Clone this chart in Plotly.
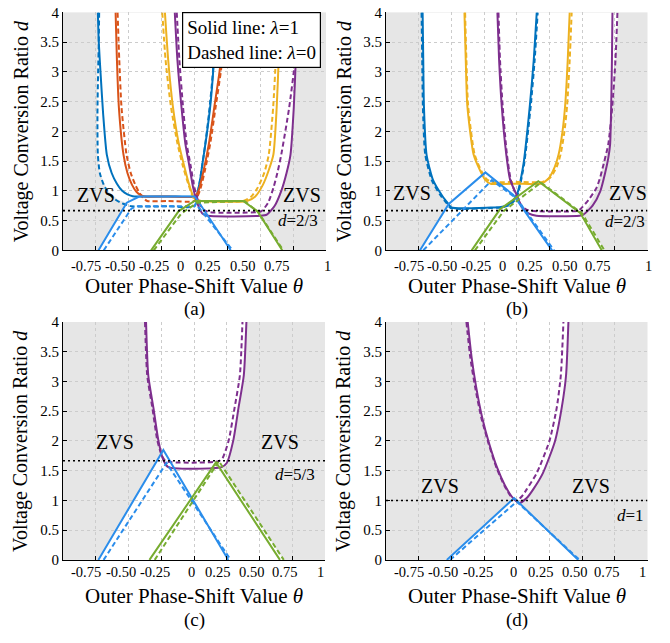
import plotly.graph_objects as go

# ---------------- tick labels ----------------
THETA_TICKS = [-0.75, -0.5, -0.25, 0, 0.25, 0.5, 0.75, 1]
THETA_TICK_TEXT = ['-0.75', '-0.50', '-0.25', '0', '0.25', '0.50', '0.75', '1']
D_TICKS = [0, 0.5, 1, 1.5, 2, 2.5, 3, 3.5, 4]
D_TICK_TEXT = ['0', '0.5', '1', '1.5', '2', '2.5', '3', '3.5', '4']

# ---------------- panel (a) ----------------
A_DB_S_T = [-0.735, -0.728, -0.715, -0.695, -0.667, -0.63, -0.59, -0.55, -0.51, -0.47, -0.43, -0.2, 0.0, 0.016, 0.04, 0.06, 0.09, 0.12, 0.145, 0.165]
A_DB_S_D = [4.0, 3.5, 3.0, 2.3, 1.61, 1.3, 1.12, 1.0, 0.94, 0.91, 0.905, 0.905, 0.905, 0.93, 1.15, 1.45, 1.9, 2.43, 3.1, 4.0]
A_DB_D_T = [-0.725, -0.728, -0.733, -0.738, -0.735, -0.72, -0.69, -0.65, -0.60, -0.55, -0.51, -0.48, -0.2, 0.0, 0.02, 0.05, 0.08, 0.11, 0.14, 0.158]
A_DB_D_D = [4.0, 3.5, 3.0, 2.3, 1.61, 1.3, 1.1, 0.95, 0.85, 0.79, 0.76, 0.74, 0.74, 0.74, 0.9, 1.3, 1.75, 2.3, 3.0, 4.0]
A_OR_S_T = [-0.60, -0.59, -0.575, -0.54, -0.51, -0.475, -0.44, -0.41, -0.38, -0.2, 0.0, 0.03, 0.07, 0.11, 0.15, 0.19, 0.215, 0.235]
A_OR_S_D = [4.0, 3.2, 2.4, 1.61, 1.3, 1.1, 0.98, 0.93, 0.905, 0.905, 0.905, 1.0, 1.35, 1.8, 2.4, 3.0, 3.5, 4.0]
A_OR_D_T = [-0.585, -0.572, -0.555, -0.517, -0.485, -0.45, -0.42, -0.39, -0.36, -0.2, 0.0, 0.04, 0.08, 0.12, 0.16, 0.20, 0.225, 0.245]
A_OR_D_D = [4.0, 3.2, 2.4, 1.61, 1.3, 1.1, 0.97, 0.88, 0.83, 0.83, 0.83, 1.0, 1.35, 1.8, 2.4, 3.0, 3.5, 4.0]
A_YE_S_T = [-0.225, -0.20, -0.165, -0.12, -0.08, -0.04, 0.0, 0.05, 0.40, 0.46, 0.52, 0.565, 0.60, 0.625, 0.64, 0.652]
A_YE_S_D = [4.0, 3.2, 2.43, 1.8, 1.43, 1.1, 0.87, 0.83, 0.83, 0.9, 1.1, 1.35, 1.61, 2.4, 3.2, 4.0]
A_YE_D_T = [-0.245, -0.22, -0.18, -0.13, -0.09, -0.045, 0.0, 0.05, 0.37, 0.43, 0.48, 0.53, 0.565, 0.598, 0.618, 0.632]
A_YE_D_D = [4.0, 3.2, 2.43, 1.8, 1.43, 1.1, 0.85, 0.83, 0.83, 0.9, 1.05, 1.3, 1.61, 2.4, 3.2, 4.0]
A_PU_S_T = [-0.15, -0.13, -0.10, -0.07, -0.04, -0.01, 0.02, 0.06, 0.10, 0.50, 0.55, 0.61, 0.66, 0.70, 0.73, 0.755, 0.77, 0.78]
A_PU_S_D = [4.0, 3.2, 2.43, 1.8, 1.43, 1.05, 0.8, 0.62, 0.58, 0.58, 0.60, 0.75, 1.0, 1.3, 1.61, 2.4, 3.2, 4.0]
A_PU_D_T = [-0.135, -0.115, -0.088, -0.06, -0.03, 0.0, 0.03, 0.07, 0.12, 0.47, 0.51, 0.56, 0.60, 0.63, 0.66, 0.72, 0.765, 0.79]
A_PU_D_D = [4.0, 3.2, 2.43, 1.8, 1.43, 1.05, 0.82, 0.68, 0.64, 0.64, 0.66, 0.8, 1.05, 1.3, 1.61, 2.4, 3.2, 4.0]
A_LB_S_T = [-0.73, -0.515, -0.42, 0.0, 0.02, 0.275]
A_LB_S_D = [0.0, 0.80, 0.905, 0.905, 0.85, 0.0]
A_LB_D_T = [-0.69, -0.48, -0.44, 0.0, 0.01, 0.29]
A_LB_D_D = [0.0, 0.70, 0.74, 0.74, 0.78, 0.0]
A_GR_S_T = [-0.33, -0.12, 0.0, 0.37, 0.477, 0.667]
A_GR_S_D = [0.0, 0.66, 0.83, 0.83, 0.66, 0.0]
A_GR_D_T = [-0.31, -0.10, 0.02, 0.38, 0.485, 0.675]
A_GR_D_D = [0.0, 0.62, 0.80, 0.83, 0.64, 0.0]
A_WHITE_T = [-0.735, -0.738, -0.738, -0.72, -0.66, -0.58, -0.515, -0.73, 0.675, 0.485, 0.55, 0.61, 0.66, 0.70, 0.73, 0.755, 0.775, 0.79]
A_WHITE_D = [4.0, 3.0, 1.61, 1.3, 1.0, 0.85, 0.80, 0.0, 0.0, 0.64, 0.64, 0.75, 1.0, 1.3, 1.61, 2.4, 3.2, 4.0]
A_LEVEL = 2 / 3

# ---------------- panel (b) ----------------
B_DB_S_T = [-0.72, -0.715, -0.71, -0.69, -0.64, -0.574, -0.53, -0.50, -0.2, -0.12, -0.07, -0.03, 0.0, 0.05, 0.10, 0.13, 0.153]
B_DB_S_D = [4.0, 3.2, 2.43, 1.61, 1.18, 0.93, 0.80, 0.72, 0.72, 0.73, 0.76, 0.83, 0.93, 1.43, 2.43, 3.2, 4.0]
B_DB_D_T = [-0.728, -0.723, -0.718, -0.70, -0.65, -0.585, -0.54, -0.505, -0.2, -0.12, -0.065, -0.025, 0.005, 0.055, 0.107, 0.137, 0.16]
B_DB_D_D = [4.0, 3.2, 2.43, 1.61, 1.18, 0.93, 0.80, 0.71, 0.71, 0.72, 0.75, 0.82, 0.92, 1.43, 2.43, 3.2, 4.0]
B_YE_S_T = [-0.40, -0.39, -0.378, -0.33, -0.28, -0.24, -0.20, 0.0, 0.18, 0.24, 0.29, 0.32, 0.35, 0.37, 0.39, 0.405]
B_YE_S_D = [4.0, 3.2, 2.43, 1.61, 1.34, 1.18, 1.12, 1.12, 1.12, 1.2, 1.4, 1.61, 2.0, 2.43, 3.2, 4.0]
B_YE_D_T = [-0.395, -0.385, -0.372, -0.322, -0.272, -0.232, -0.19, 0.0, 0.195, 0.255, 0.305, 0.335, 0.365, 0.385, 0.405, 0.42]
B_YE_D_D = [4.0, 3.2, 2.43, 1.61, 1.34, 1.2, 1.15, 1.15, 1.15, 1.22, 1.4, 1.61, 2.0, 2.43, 3.2, 4.0]
B_PU_S_T = [-0.148, -0.135, -0.115, -0.08, -0.05, 0.0, 0.04, 0.09, 0.15, 0.48, 0.51, 0.58, 0.64, 0.675, 0.70, 0.714, 0.722, 0.728, 0.732]
B_PU_S_D = [4.0, 3.2, 2.43, 1.61, 1.18, 0.93, 0.72, 0.62, 0.58, 0.58, 0.60, 0.75, 1.0, 1.29, 1.55, 1.78, 2.4, 3.2, 4.0]
B_PU_D_T = [-0.14, -0.128, -0.108, -0.075, -0.045, 0.0, 0.04, 0.08, 0.13, 0.46, 0.48, 0.55, 0.61, 0.64, 0.67, 0.70, 0.73, 0.755, 0.77]
B_PU_D_D = [4.0, 3.2, 2.43, 1.61, 1.18, 0.9, 0.74, 0.68, 0.66, 0.66, 0.68, 0.85, 1.05, 1.24, 1.5, 1.78, 2.4, 3.2, 4.0]
B_LB_S_T = [-0.74, -0.52, -0.24, -0.026, 0.27]
B_LB_S_D = [0.0, 0.78, 1.31, 0.93, 0.0]
B_LB_D_T = [-0.715, -0.42, -0.19, 0.0, 0.285]
B_LB_D_D = [0.0, 0.66, 1.18, 0.87, 0.0]
B_GR_S_T = [-0.345, -0.13, 0.165, 0.485, 0.65]
B_GR_S_D = [0.0, 0.685, 1.16, 0.63, 0.0]
B_GR_D_T = [-0.32, -0.10, 0.185, 0.50, 0.67]
B_GR_D_D = [0.0, 0.66, 1.14, 0.62, 0.0]
B_WHITE_T = [-0.728, -0.72, -0.70, -0.65, -0.585, -0.52, -0.74, 0.67, 0.50, 0.55, 0.61, 0.64, 0.67, 0.70, 0.73, 0.755, 0.775]
B_WHITE_D = [4.0, 2.43, 1.61, 1.18, 0.93, 0.78, 0.0, 0.0, 0.62, 0.75, 1.0, 1.24, 1.5, 1.78, 2.4, 3.2, 4.0]
B_LEVEL = 2 / 3

# ---------------- panel (c) ----------------
C_PU_S_T = [-0.366, -0.349, -0.31, -0.272, -0.234, -0.196, 0.21, 0.25, 0.30, 0.34, 0.38, 0.40]
C_PU_S_D = [4.0, 3.10, 2.56, 2.01, 1.68, 1.56, 1.56, 1.63, 2.01, 2.56, 3.10, 4.0]
C_PU_D_T = [-0.374, -0.357, -0.318, -0.28, -0.245, -0.215, 0.19, 0.22, 0.265, 0.31, 0.35, 0.37]
C_PU_D_D = [4.0, 3.10, 2.56, 2.01, 1.75, 1.66, 1.66, 1.72, 2.01, 2.56, 3.10, 4.0]
C_LB_S_T = [-0.73, -0.234, 0.262]
C_LB_S_D = [0.0, 1.85, 0.0]
C_LB_D_T = [-0.69, -0.21, 0.28]
C_LB_D_D = [0.0, 1.63, 0.0]
C_GR_S_T = [-0.34, 0.168, 0.656]
C_GR_S_D = [0.0, 1.64, 0.0]
C_GR_D_T = [-0.30, 0.19, 0.685]
C_GR_D_D = [0.0, 1.66, 0.0]
C_WHITE_T = [-0.374, -0.357, -0.318, -0.28, -0.245, -0.234, -0.73, 0.685, 0.21, 0.25, 0.30, 0.34, 0.38, 0.40]
C_WHITE_D = [4.0, 3.10, 2.56, 2.01, 1.75, 1.85, 0.0, 0.0, 1.56, 1.63, 2.01, 2.56, 3.10, 4.0]
C_LEVEL = 5 / 3

# ---------------- panel (d) ----------------
D_PU_S_T = [-0.375, -0.345, -0.31, -0.265, -0.21, -0.15, -0.09, -0.04, -0.01, 0.02, 0.08, 0.127, 0.20, 0.293, 0.344, 0.377, 0.395]
D_PU_S_D = [4.0, 3.4, 2.9, 2.4, 1.95, 1.55, 1.25, 1.07, 1.0, 0.955, 1.05, 1.19, 1.46, 2.0, 2.56, 3.10, 4.0]
D_PU_D_T = [-0.385, -0.355, -0.318, -0.272, -0.215, -0.155, -0.095, -0.045, 0.0, 0.04, 0.077, 0.153, 0.25, 0.306, 0.337, 0.357]
D_PU_D_D = [4.0, 3.4, 2.9, 2.4, 1.95, 1.55, 1.25, 1.07, 1.0, 1.07, 1.19, 1.46, 2.0, 2.56, 3.10, 4.0]
D_LB_S_T = [-0.535, -0.02, 0.47]
D_LB_S_D = [0.0, 1.04, 0.0]
D_LB_D_T = [-0.51, 0.0, 0.48]
D_LB_D_D = [0.0, 0.98, 0.0]
D_WHITE_T = [-0.385, -0.355, -0.318, -0.272, -0.215, -0.155, -0.095, -0.045, -0.02, -0.535, 0.48, 0.02, 0.08, 0.127, 0.20, 0.293, 0.344, 0.377, 0.395]
D_WHITE_D = [4.0, 3.4, 2.9, 2.4, 1.95, 1.55, 1.25, 1.07, 1.04, 0.0, 0.0, 0.955, 1.05, 1.19, 1.46, 2.0, 2.56, 3.10, 4.0]
D_LEVEL = 1.0

# ---------------- styling ----------------
DB = '#0072BD'
OR = '#D95319'
YE = '#EDB120'
PU = '#7E2F8E'
GR = '#77AC30'
LB = '#2A8DEB'
GRAY = '#e6e6e6'
GRID = '#cccccc'
FONT = 'Liberation Serif'
W, H = 670, 643

# horizontal pixel nudges of the x tick labels (the original labels sit slightly left of their ticks)
SHIFT_TOP = [-10, -9, -8, -14, -20, -18, -17, 1]
SHIFT_BOT = [-10, -8, -6, -3, -9, -8, -8, -5]

panels = {
    'a': dict(xd=[63, 326], yd=[4.5, 248.5], curves=[
        (A_DB_S_T, A_DB_S_D, DB, 's', True), (A_DB_D_T, A_DB_D_D, DB, 'd', True),
        (A_OR_S_T, A_OR_S_D, OR, 's', True), (A_OR_D_T, A_OR_D_D, OR, 'd', True),
        (A_YE_S_T, A_YE_S_D, YE, 's', True), (A_YE_D_T, A_YE_D_D, YE, 'd', True),
        (A_PU_S_T, A_PU_S_D, PU, 's', True), (A_PU_D_T, A_PU_D_D, PU, 'd', True),
        (A_LB_S_T, A_LB_S_D, LB, 's', False), (A_LB_D_T, A_LB_D_D, LB, 'd', False),
        (A_GR_S_T, A_GR_S_D, GR, 's', False), (A_GR_D_T, A_GR_D_D, GR, 'd', False)],
        white=(A_WHITE_T, A_WHITE_D), level=A_LEVEL, level_txt='<i>d</i>=2/3',
        zvs=[(-0.75, 0.93), (0.82, 0.93)], ltxt=(0.79, 0.5), label='(a)',
        tickoff=16.5, titoff=36.5, laboff=60.5, shifts=SHIFT_TOP),
    'b': dict(xd=[386, 647.5], yd=[4.5, 248.5], curves=[
        (B_DB_S_T, B_DB_S_D, DB, 's', True), (B_DB_D_T, B_DB_D_D, DB, 'd', True),
        (B_YE_S_T, B_YE_S_D, YE, 's', True), (B_YE_D_T, B_YE_D_D, YE, 'd', True),
        (B_PU_S_T, B_PU_S_D, PU, 's', True), (B_PU_D_T, B_PU_D_D, PU, 'd', True),
        (B_LB_S_T, B_LB_S_D, LB, 's', False), (B_LB_D_T, B_LB_D_D, LB, 'd', False),
        (B_GR_S_T, B_GR_S_D, GR, 's', False), (B_GR_D_T, B_GR_D_D, GR, 'd', False)],
        white=(B_WHITE_T, B_WHITE_D), level=B_LEVEL, level_txt='<i>d</i>=2/3',
        zvs=[(-0.80, 0.96), (0.85, 0.96)], ltxt=(0.83, 0.48), label='(b)',
        tickoff=16.5, titoff=36.5, laboff=60.5, shifts=SHIFT_TOP),
    'c': dict(xd=[63, 325], yd=[322, 566], curves=[
        (C_PU_S_T, C_PU_S_D, PU, 's', True), (C_PU_D_T, C_PU_D_D, PU, 'd', True),
        (C_LB_S_T, C_LB_S_D, LB, 's', False), (C_LB_D_T, C_LB_D_D, LB, 'd', False),
        (C_GR_S_T, C_GR_S_D, GR, 's', False), (C_GR_D_T, C_GR_D_D, GR, 'd', False)],
        white=(C_WHITE_T, C_WHITE_D), level=C_LEVEL, level_txt='<i>d</i>=5/3',
        zvs=[(-0.60, 1.98), (0.656, 1.98)], ltxt=(0.77, 1.44), label='(c)',
        tickoff=12, titoff=37, laboff=62, shifts=SHIFT_BOT),
    'd': dict(xd=[386, 647.5], yd=[322, 566], curves=[
        (D_PU_S_T, D_PU_S_D, PU, 's', True), (D_PU_D_T, D_PU_D_D, PU, 'd', True),
        (D_LB_S_T, D_LB_S_D, LB, 's', False), (D_LB_D_T, D_LB_D_D, LB, 'd', False)],
        white=(D_WHITE_T, D_WHITE_D), level=D_LEVEL, level_txt='<i>d</i>=1',
        zvs=[(-0.59, 1.25), (0.57, 1.25)], ltxt=(0.87, 0.75), label='(d)',
        tickoff=12, titoff=37, laboff=62, shifts=SHIFT_BOT),
}

fig = go.Figure()
shapes = []
annotations = []
layout_axes = {}


def txt(x, y, text, size, xref='paper', yref='paper', **kw):
    d = dict(x=x, y=y, xref=xref, yref=yref, text=text, showarrow=False, xanchor='center',
             yanchor='middle', font=dict(family=FONT, size=size, color='black'))
    d.update(kw)
    return d


for i, (key, p) in enumerate(panels.items()):
    n = '' if i == 0 else str(i + 1)
    xa, ya = 'x' + n, 'y' + n
    xdom = [p['xd'][0] / W, p['xd'][1] / W]
    ydom = [1 - p['yd'][1] / H, 1 - p['yd'][0] / H]
    common = dict(showgrid=True, gridcolor=GRID, griddash='3px,3px', gridwidth=1, zeroline=False,
                  showline=True, linecolor='black', linewidth=1, ticks='inside', ticklen=4,
                  tickcolor='black', tickfont=dict(family=FONT, size=15, color='black'), fixedrange=True)
    layout_axes['xaxis' + n] = dict(domain=xdom, range=[-1, 1], anchor=ya, tickvals=THETA_TICKS,
                                    ticktext=THETA_TICK_TEXT, showticklabels=False, **common)
    layout_axes['yaxis' + n] = dict(domain=ydom, range=[0, 4], anchor=xa, tickvals=D_TICKS,
                                    ticktext=D_TICK_TEXT, **common)
    # white (non-ZVS) region drawn under the grid
    wt, wd = p['white']
    path = 'M ' + ' L '.join(f'{t},{d}' for t, d in zip(wt, wd)) + ' Z'
    shapes.append(dict(type='path', path=path, xref=xa, yref=ya, fillcolor='white',
                       line=dict(width=0), layer='below'))
    # curves
    for t, d, col, sty, smooth in p['curves']:
        fig.add_trace(go.Scatter(x=t, y=d, mode='lines', xaxis=xa, yaxis=ya, showlegend=False,
                                 line=dict(color=col, width=2, dash='solid' if sty == 's' else '5px,3px',
                                           shape='spline' if smooth else 'linear', smoothing=0.6),
                                 hoverinfo='skip'))
    # level line
    fig.add_trace(go.Scatter(x=[-1, 1], y=[p['level'], p['level']], mode='lines', xaxis=xa, yaxis=ya,
                             showlegend=False, line=dict(color='black', width=1.6, dash='2px,3px'),
                             hoverinfo='skip'))
    for (zt, zd) in p['zvs']:
        annotations.append(txt(zt, zd, 'ZVS', 20, xref=xa, yref=ya))
    annotations.append(txt(p['ltxt'][0], p['ltxt'][1], p['level_txt'], 17, xref=xa, yref=ya))
    yb = p['yd'][1]
    # x tick labels
    for tv, tt, sh in zip(THETA_TICKS, THETA_TICK_TEXT, p['shifts']):
        annotations.append(txt(tv, 1 - (yb + p['tickoff']) / H, tt, 14.5, xref=xa, xshift=sh))
    xc = (xdom[0] + xdom[1]) / 2
    annotations.append(txt(xc, 1 - (yb + p['titoff']) / H, 'Outer Phase-Shift Value <i>θ</i>', 21))
    annotations.append(txt(xc, 1 - (yb + p['laboff']) / H, p['label'], 19))
    annotations.append(txt((p['xd'][0] - 42) / W, (ydom[0] + ydom[1]) / 2,
                           'Voltage Conversion Ratio <i>d</i>', 20, textangle=-90))

# legend box in panel (a)
annotations.append(txt(251 / W, 1 - 32.5 / H, 'Solid line: <i>λ</i>=1<br>Dashed line: <i>λ</i>=0', 19,
                       align='left', bgcolor='white', bordercolor='black', borderwidth=1.2, borderpad=4))

fig.update_layout(width=W, height=H, margin=dict(l=0, r=0, t=0, b=0), paper_bgcolor='white',
                  plot_bgcolor=GRAY, shapes=shapes, annotations=annotations, **layout_axes)

fig.write_html('out.html', config={'displayModeBar': False},
               post_script="document.body.style.margin='0px';")
